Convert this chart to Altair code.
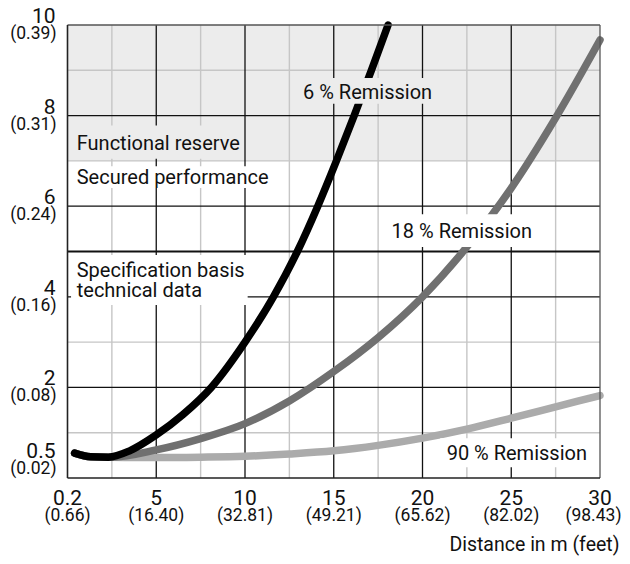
import altair as alt
import pandas as pd

# ---- data ----
# x is the distance axis position in m (first tick shown as 0.2), y is spot size in mm
DIST_6 = [0.4, 1.3, 2.3, 3.5, 5.0, 6.5, 8.1, 10.0, 11.6, 12.95, 14.1, 15.15, 16.15, 17.12, 18.06]
MM_6 = [0.55, 0.47, 0.46, 0.6, 0.95, 1.4, 2.0, 3.0, 4.0, 5.0, 6.0, 7.0, 8.0, 9.0, 10.0]
DIST_18 = [0.4, 1.3, 2.5, 5.0, 7.5, 10.0, 12.5, 15.0, 17.5, 20.0, 22.5, 25.0, 27.5, 30.0]
MM_18 = [0.55, 0.47, 0.46, 0.62, 0.87, 1.2, 1.7, 2.35, 3.1, 4.0, 5.1, 6.4, 7.95, 9.67]
DIST_90 = [0.4, 1.3, 2.5, 5.0, 7.5, 10.0, 12.5, 15.0, 17.5, 20.0, 22.5, 25.0, 27.5, 30.0]
MM_90 = [0.55, 0.47, 0.46, 0.45, 0.46, 0.48, 0.53, 0.6, 0.72, 0.88, 1.08, 1.32, 1.57, 1.82]

X_TICKS = [0, 5, 10, 15, 20, 25, 30]
X_MAIN = ["0.2", "5", "10", "15", "20", "25", "30"]
X_SUB = ["(0.66)", "(16.40)", "(32.81)", "(49.21)", "(65.62)", "(82.02)", "(98.43)"]
Y_TICKS = [10, 8, 6, 4, 2, 0.5]
Y_MAIN = ["10", "8", "6", "4", "2", "0.5"]
Y_SUB = ["(0.39)", "(0.31)", "(0.24)", "(0.16)", "(0.08)", "(0.02)"]

X_MINOR = [2.5, 7.5, 12.5, 17.5, 22.5, 27.5]
X_MAJOR = [5, 10, 15, 20, 25]
Y_MINOR = [1, 3, 7, 9]
Y_MAJOR = [2, 4, 6, 8]
Y_THICK = [5]

FONT = "Roboto"
W, H = 532.5, 453

xs = alt.Scale(domain=[0, 30], nice=False, zero=False)
ys = alt.Scale(domain=[0, 10], nice=False, zero=False)

def X(f):
    return alt.X(f, type="quantitative", scale=xs, axis=None)

def Y(f):
    return alt.Y(f, type="quantitative", scale=ys, axis=None)

curves = pd.concat([
    pd.DataFrame({"d": DIST_90, "mm": MM_90, "s": "90 %"}),
    pd.DataFrame({"d": DIST_18, "mm": MM_18, "s": "18 %"}),
    pd.DataFrame({"d": DIST_6, "mm": MM_6, "s": "6 %"}),
])

band = alt.Chart(pd.DataFrame({"x0": [0], "x1": [30], "y0": [7], "y1": [10]})).mark_rect(
    color="#ececec").encode(x=X("x0"), x2="x1", y=Y("y0"), y2="y1")

def vrules(vals, color, width):
    return alt.Chart(pd.DataFrame({"x": vals, "y0": 0, "y1": 10})).mark_rule(
        color=color, strokeWidth=width).encode(x=X("x"), y=Y("y0"), y2="y1")

def hrules(vals, color, width):
    return alt.Chart(pd.DataFrame({"y": vals, "x0": 0, "x1": 30})).mark_rule(
        color=color, strokeWidth=width).encode(y=Y("y"), x=X("x0"), x2="x1")

grid = [
    vrules(X_MINOR, "#c6c6c6", 1.4),
    hrules(Y_MINOR, "#c6c6c6", 1.4),
    vrules(X_MAJOR, "#111111", 1.3),
    hrules(Y_MAJOR, "#111111", 1.3),
    hrules(Y_THICK, "#111111", 2.2),
]

def curve(name, color):
    return alt.Chart(curves[curves.s == name]).mark_line(
        color=color, strokeWidth=7.5, strokeCap="round", strokeJoin="round",
        interpolate="monotone"
    ).encode(x=X("d"), y=Y("mm"))

lines = [curve("90 %", "#ababab"), curve("18 %", "#707070"), curve("6 %", "#000000")]

# label boxes (data coordinates) and texts
boxes = pd.DataFrame({
    "x0": [0.1, 0.1, 0.2, 13.0, 17.9, 21.0],
    "x1": [9.85, 11.5, 10.15, 21.0, 26.6, 29.8],
    "y0": [7.05, 6.4, 3.82, 8.26, 5.1, 0.24],
    "y1": [7.78, 6.88, 4.92, 8.83, 5.82, 0.88],
    "c": ["#ececec", "#ffffff", "#ffffff", "#ececec", "#ffffff", "#ffffff"],
})
box_layer = alt.Chart(boxes).mark_rect().encode(
    x=X("x0"), x2="x1", y=Y("y0"), y2="y1", color=alt.Color("c:N", scale=None))

notes = pd.DataFrame({
    "x": [0.52, 0.52, 0.52, 0.52, 13.27, 18.26, 21.36],
    "y": [7.24, 6.5, 4.44, 4.0, 8.36, 5.29, 0.40],
    "t": ["Functional reserve", "Secured performance", "Specification basis",
          "technical data", "6 % Remission", "18 % Remission", "90 % Remission"],
})
note_layer = alt.Chart(notes).mark_text(
    align="left", baseline="alphabetic", font=FONT, fontSize=20, color="#111111"
).encode(x=X("x"), y=Y("y"), text="t:N")

border = [
    hrules([10], "#555555", 1.3),
    vrules([30], "#555555", 1.3),
    vrules([0], "#222222", 1.6),
    hrules([0], "#222222", 1.6),
]

xt = pd.DataFrame({"x": X_TICKS, "m": X_MAIN, "s": X_SUB})
x_main = alt.Chart(xt).mark_text(align="center", baseline="alphabetic", font=FONT,
    fontSize=21, color="#111111").encode(x=X("x"), y=alt.value(480), text="m:N")
x_sub = alt.Chart(xt).transform_filter("datum.x < 30").mark_text(
    align="center", baseline="alphabetic", font=FONT, fontSize=17.5,
    color="#111111").encode(x=X("x"), y=alt.value(496), text="s:N")
x_sub_last = alt.Chart(xt).transform_filter("datum.x >= 30").mark_text(
    align="right", baseline="alphabetic", font=FONT, fontSize=17.5, dx=21.5,
    color="#111111").encode(x=X("x"), y=alt.value(496), text="s:N")

yt = pd.DataFrame({"y": Y_TICKS, "m": Y_MAIN, "s": Y_SUB})
upper = "datum.y >= 1"
lower = "datum.y < 1"
y_main = alt.Chart(yt).transform_filter(upper).mark_text(
    align="right", baseline="alphabetic", font=FONT, fontSize=21, dy=-2,
    color="#111111").encode(x=alt.value(-12), y=Y("y"), text="m:N")
y_sub = alt.Chart(yt).transform_filter(upper).mark_text(
    align="right", baseline="alphabetic", font=FONT, fontSize=17.5, dy=14,
    color="#111111").encode(x=alt.value(-11), y=Y("y"), text="s:N")
y_main_lo = alt.Chart(yt).transform_filter(lower).mark_text(
    align="right", baseline="alphabetic", font=FONT, fontSize=21, dy=3,
    color="#111111").encode(x=alt.value(-12), y=Y("y"), text="m:N")
y_sub_lo = alt.Chart(yt).transform_filter(lower).mark_text(
    align="right", baseline="alphabetic", font=FONT, fontSize=17.5, dy=19,
    color="#111111").encode(x=alt.value(-11), y=Y("y"), text="s:N")

title = alt.Chart(pd.DataFrame({"t": ["Distance in m (feet)"]})).mark_text(
    align="right", baseline="alphabetic", font=FONT, fontSize=19.5, color="#111111"
).encode(x=alt.value(552), y=alt.value(526), text="t:N")

chart = alt.layer(
    band, *grid, *lines, box_layer, note_layer, *border,
    x_main, x_sub, x_sub_last, y_main, y_sub, y_main_lo, y_sub_lo, title
).properties(
    width=W, height=H,
    autosize=alt.AutoSizeParams(type="none"),
    padding={"left": 59.5, "top": 17, "right": 22, "bottom": 78},
).configure_view(stroke=None)

chart.save("out.html", embed_options={"renderer": "svg", "actions": False})
